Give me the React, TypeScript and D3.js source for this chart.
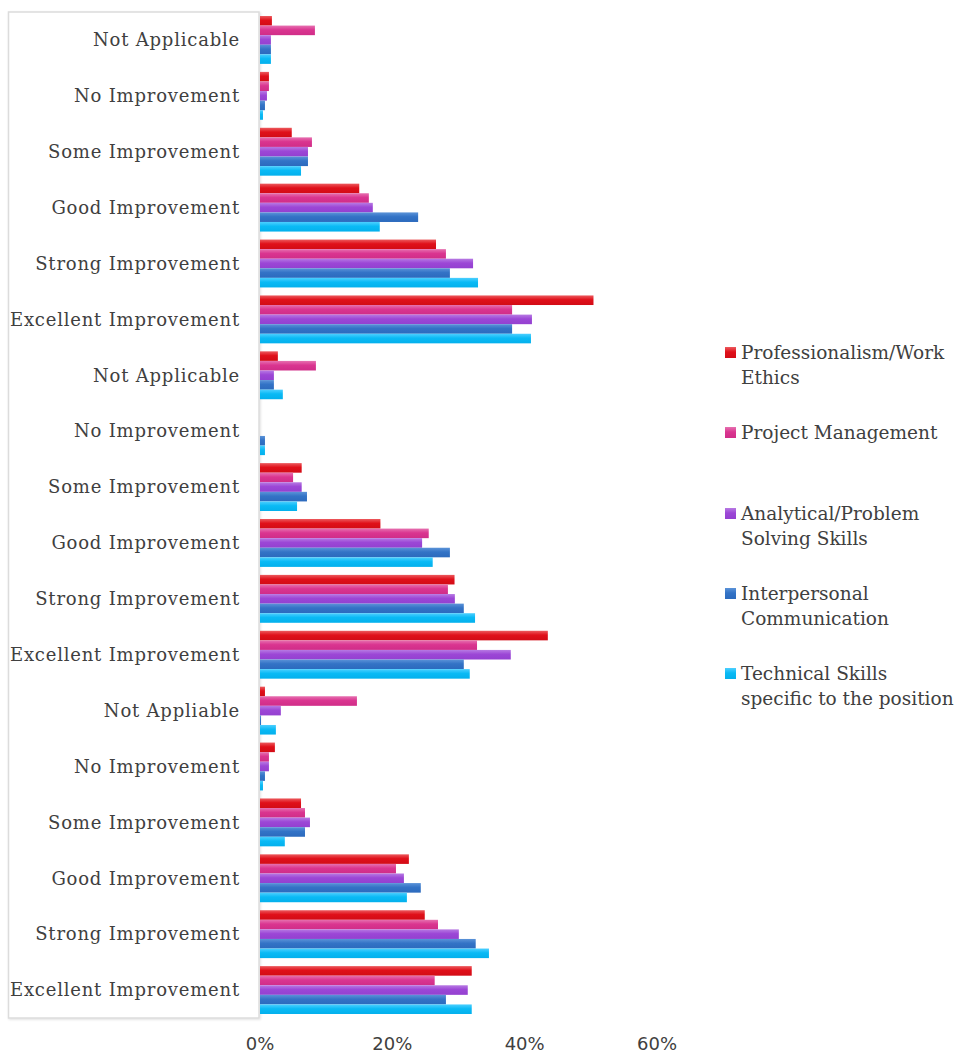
import React, { useEffect, useRef } from "react";
import * as d3 from "d3";

const categories = [
  "Not Applicable", "No Improvement", "Some Improvement", "Good Improvement", "Strong Improvement", "Excellent Improvement",
  "Not Applicable", "No Improvement", "Some Improvement", "Good Improvement", "Strong Improvement", "Excellent Improvement",
  "Not Appliable", "No Improvement", "Some Improvement", "Good Improvement", "Strong Improvement", "Excellent Improvement",
];

const seriesNames = [
  "Professionalism/Work Ethics",
  "Project Management",
  "Analytical/Problem Solving Skills",
  "Interpersonal Communication",
  "Technical Skills specific to the position",
];

const legendLines = [
  ["Professionalism/Work", "Ethics"],
  ["Project Management"],
  ["Analytical/Problem", "Solving Skills"],
  ["Interpersonal", "Communication"],
  ["Technical Skills", "specific to the position"],
];

const professionalism = [1.8, 1.35, 4.8, 15.0, 26.6, 50.4, 2.7, 0, 6.3, 18.2, 29.4, 43.5, 0.75, 2.25, 6.2, 22.5, 24.9, 32.0];
const projectManagement = [8.3, 1.35, 7.85, 16.45, 28.1, 38.1, 8.45, 0, 5.0, 25.5, 28.4, 32.8, 14.65, 1.35, 6.8, 20.55, 26.9, 26.4];
const analytical = [1.65, 1.05, 7.25, 17.05, 32.2, 41.1, 2.1, 0, 6.3, 24.5, 29.45, 37.9, 3.15, 1.35, 7.55, 21.75, 30.05, 31.4];
const interpersonal = [1.65, 0.75, 7.25, 23.9, 28.7, 38.1, 2.1, 0.75, 7.1, 28.7, 30.8, 30.8, 0.15, 0.75, 6.8, 24.3, 32.6, 28.1];
const technical = [1.65, 0.45, 6.2, 18.1, 32.95, 40.95, 3.45, 0.75, 5.6, 26.1, 32.5, 31.7, 2.4, 0.45, 3.75, 22.2, 34.6, 32.0];

const seriesValues = [professionalism, projectManagement, analytical, interpersonal, technical];

const xTicks = [0, 20, 40, 60];

const colors = [
  { light: "#ec5a5e", base: "#e0101a", dark: "#d20c16" },
  { light: "#e671b0", base: "#da3590", dark: "#d02d88" },
  { light: "#b77ae3", base: "#9c47d6", dark: "#9440d0" },
  { light: "#5b93d8", base: "#3373c6", dark: "#2c6abd" },
  { light: "#4dcfff", base: "#0abaf5", dark: "#04b0ec" },
];

const W = 963;
const H = 1055;
const FONT = "'DejaVu Serif', serif";
const TEXT = "#404040";

export default function App() {
  const ref = useRef<SVGSVGElement>(null);

  useEffect(() => {
    const svg = d3.select(ref.current);
    svg.selectAll("*").remove();

    const left = 260;
    const top = 12;
    const bottom = 1018;

    const x = d3.scaleLinear().domain([0, 60]).range([left, 657]);
    const y = d3
      .scaleBand<number>()
      .domain(d3.range(categories.length))
      .range([top, bottom])
      .paddingInner(0.143)
      .paddingOuter(0.0715);
    const ys = d3
      .scaleBand<number>()
      .domain(d3.range(seriesNames.length))
      .range([0, y.bandwidth()]);

    const defs = svg.append("defs");
    colors.forEach((c, i) => {
      const g = defs
        .append("linearGradient")
        .attr("id", `grad${i}`)
        .attr("x1", 0)
        .attr("y1", 0)
        .attr("x2", 0)
        .attr("y2", 1);
      g.append("stop").attr("offset", "0%").attr("stop-color", c.light);
      g.append("stop").attr("offset", "45%").attr("stop-color", c.base);
      g.append("stop").attr("offset", "100%").attr("stop-color", c.dark);
    });
    const filter = defs.append("filter").attr("id", "shadow").attr("x", "-5%").attr("y", "-5%").attr("width", "110%").attr("height", "110%");
    filter.append("feDropShadow").attr("dx", 1).attr("dy", 1).attr("stdDeviation", 1).attr("flood-color", "#000").attr("flood-opacity", 0.12);

    // frame around category labels
    svg
      .append("rect")
      .attr("x", 8.5)
      .attr("y", top)
      .attr("width", left - 8.5 - 1)
      .attr("height", bottom - top)
      .attr("fill", "#fff")
      .attr("stroke", "#dcdcdc")
      .attr("stroke-width", 1.5)
      .attr("filter", "url(#shadow)");

    // category labels
    svg
      .append("g")
      .selectAll("text")
      .data(categories)
      .join("text")
      .attr("x", 240)
      .attr("y", (_, i) => (y(i) as number) + y.bandwidth() / 2)
      .attr("dy", "0.35em")
      .attr("text-anchor", "end")
      .attr("font-family", FONT)
      .attr("font-size", 18)
      .attr("letter-spacing", 0.8)
      .attr("fill", TEXT)
      .text((d) => d);

    // bars
    seriesValues.forEach((vals, si) => {
      svg
        .append("g")
        .selectAll("rect")
        .data(vals)
        .join("rect")
        .attr("x", x(0))
        .attr("y", (_, i) => (y(i) as number) + (ys(si) as number))
        .attr("width", (d) => Math.max(0, x(d) - x(0)))
        .attr("height", ys.bandwidth())
        .attr("fill", `url(#grad${si})`);
    });

    // x tick labels
    svg
      .append("g")
      .selectAll("text")
      .data(xTicks)
      .join("text")
      .attr("x", (d) => x(d))
      .attr("y", 1050)
      .attr("text-anchor", "middle")
      .attr("font-family", "'DejaVu Sans', sans-serif")
      .attr("font-size", 18)
      .attr("fill", TEXT)
      .text((d) => `${d}%`);

    // legend
    const legendTops = [347, 427, 508, 588, 668];
    const lg = svg.append("g");
    legendLines.forEach((lines, i) => {
      const t = legendTops[i];
      lg.append("rect")
        .attr("x", 725)
        .attr("y", t)
        .attr("width", 11)
        .attr("height", 11)
        .attr("fill", `url(#grad${i})`);
      lines.forEach((line, li) => {
        lg.append("text")
          .attr("x", 741)
          .attr("y", t + 12 + li * 25)
          .attr("font-family", FONT)
          .attr("font-size", 18.5)
          .attr("fill", TEXT)
          .text(line);
      });
    });
  }, []);

  return (
    <svg
      ref={ref}
      width={W}
      height={H}
      style={{ position: "absolute", left: 0, top: 0, background: "#fff" }}
    />
  );
}
